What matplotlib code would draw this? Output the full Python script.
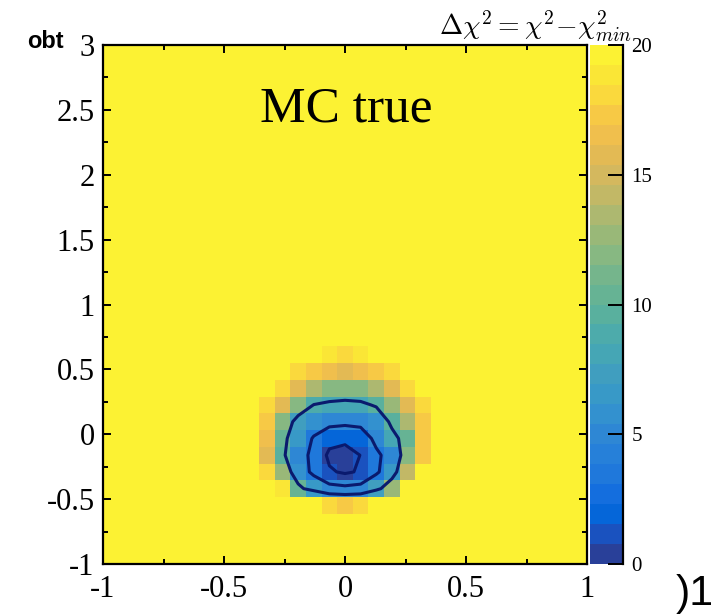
import numpy as np
import matplotlib
matplotlib.use("Agg")
import matplotlib.pyplot as plt
from matplotlib.colors import ListedColormap, BoundaryNorm
from matplotlib.ticker import AutoMinorLocator, FixedLocator

plt.rcParams['mathtext.fontset'] = 'cm'
plt.rcParams['axes.unicode_minus'] = False

# ---------------- data ----------------
x_range = (-1.0, 1.0)
y_range = (-1.0, 3.0)
n_bins = 31
z_max = 20.0
n_bands = 26
contour_levels = [1.0, 4.0, 9.0]
A = 25.0   # bins above the colour-scale maximum (drawn in the top colour)

# Delta chi^2 values, x bins 10..20 (x ~ -0.32 ... 0.32), one array per y bin
core_first_col = 10
row_y03 = [A, A, A, A, 18.0, 17.0, 17.8, A, A, A, A]
row_y04 = [A, 18.5, 10.2, 6.8, 5.0, 4.7, 5.0, 7.5, 12.5, A, A]
row_y05 = [18.0, 12.5, 6.0, 3.2, 1.35, 0.6, 1.3, 3.4, 6.5, 14.5, A]
row_y06 = [16.0, 9.8, 5.0, 3.4, 0.4, 0.0, 1.05, 3.4, 5.3, 11.7, 17.2]
row_y07 = [16.5, 10.2, 6.2, 3.7, 2.0, 1.6, 2.2, 4.8, 7.8, 10.6, 17.0]
row_y08 = [17.2, 12.0, 7.4, 5.8, 4.9, 4.7, 4.9, 6.0, 9.8, 13.5, 17.5]
row_y09 = [17.8, 15.6, 11.8, 8.9, 8.2, 8.0, 8.2, 9.4, 12.6, 15.8, 18.0]
row_y10 = [A, 17.8, 15.6, 13.4, 12.2, 11.6, 12.0, 13.5, 15.5, 17.9, A]
row_y11 = [A, A, 18.0, 17.3, 16.6, 16.0, 16.3, 17.2, 18.0, A, A]
row_y12 = [A, A, A, A, 18.5, 18.0, 18.5, A, A, A, A]
core_rows = [(3, row_y03), (4, row_y04), (5, row_y05), (6, row_y06),
             (7, row_y07), (8, row_y08), (9, row_y09), (10, row_y10),
             (11, row_y11), (12, row_y12)]

x_ticks = [-1, -0.5, 0, 0.5, 1]
x_tick_labels = ['-1', '-0.5', '0', '0.5', '1']
y_ticks = [-1, -0.5, 0, 0.5, 1, 1.5, 2, 2.5, 3]
y_tick_labels = ['-1', '-0.5', '0', '0.5', '1', '1.5', '2', '2.5', '3']
cb_ticks = [0, 5, 10, 15, 20]
cb_tick_labels = ['0', '5', '10', '15', '20']

# palette bands (bottom -> top), muted parula-like as in the picture
band_colors = [
    (0.16, 0.25, 0.60), (0.10, 0.32, 0.75), (0.02, 0.40, 0.85), (0.08, 0.43, 0.87),
    (0.12, 0.47, 0.86), (0.15, 0.50, 0.85), (0.18, 0.53, 0.83), (0.20, 0.57, 0.81),
    (0.22, 0.60, 0.78), (0.25, 0.62, 0.75), (0.27, 0.65, 0.71), (0.30, 0.67, 0.67),
    (0.35, 0.69, 0.62), (0.40, 0.70, 0.58), (0.46, 0.71, 0.55), (0.53, 0.72, 0.51),
    (0.60, 0.72, 0.47), (0.68, 0.72, 0.44), (0.76, 0.72, 0.40), (0.83, 0.72, 0.37),
    (0.89, 0.73, 0.33), (0.94, 0.75, 0.30), (0.97, 0.79, 0.27), (0.98, 0.85, 0.24),
    (0.98, 0.90, 0.21), (0.99, 0.95, 0.20)]

# ---------------- build histogram ----------------
Z = np.full((n_bins, n_bins), A)
for j, row in core_rows:
    Z[j, core_first_col:core_first_col + len(row)] = row
xe = np.linspace(x_range[0], x_range[1], n_bins + 1)
ye = np.linspace(y_range[0], y_range[1], n_bins + 1)
xc = 0.5 * (xe[:-1] + xe[1:])
yc = 0.5 * (ye[:-1] + ye[1:])

cmap = ListedColormap(band_colors)
cmap.set_over(band_colors[-1])
norm = BoundaryNorm(np.linspace(0, z_max, n_bands + 1), n_bands)

# ---------------- figure ----------------
W, H = 727, 614
fig = plt.figure(figsize=(W / 100, H / 100), dpi=100)
L, R, T, B = 103, 587, 45, 564
ax = fig.add_axes([L / W, 1 - B / H, (R - L) / W, (B - T) / H])
cax = fig.add_axes([590 / W, 1 - B / H, 33 / W, (B - T) / H])

mesh = ax.pcolormesh(xe, ye, Z, cmap=cmap, norm=norm, shading='flat')
ax.contour(xc, yc, Z, levels=contour_levels, colors='#0a1a6e', linewidths=2.2)

ax.set_xlim(*x_range)
ax.set_ylim(*y_range)
serif = 'Liberation Serif'
ax.xaxis.set_major_locator(FixedLocator(x_ticks))
ax.set_xticklabels(x_tick_labels, family=serif, fontsize=22)
ax.yaxis.set_major_locator(FixedLocator(y_ticks))
ax.set_yticklabels(y_tick_labels, family=serif, fontsize=22)
ax.xaxis.set_minor_locator(AutoMinorLocator(2))
ax.yaxis.set_minor_locator(AutoMinorLocator(2))
ax.tick_params(which='both', direction='in', top=True, right=True, width=1.4)
ax.tick_params(which='major', length=6)
ax.tick_params(which='minor', length=3.5)
ax.tick_params(axis='x', pad=8)
ax.tick_params(axis='y', pad=6)
for s in ax.spines.values():
    s.set_linewidth(1.6)

ax.text(-0.351, 2.41, 'MC true', family=serif, fontsize=37, va='baseline')

cb = fig.colorbar(mesh, cax=cax, extend='neither')
cb.set_ticks(cb_ticks)
cb.set_ticklabels(cb_tick_labels)
cb.outline.set_visible(False)
cax.spines['right'].set_visible(True)
cax.spines['right'].set_linewidth(1.6)
cax.tick_params(direction='in', length=11, width=1.4, pad=6, labelsize=15)
for lab in cax.get_yticklabels():
    lab.set_family(serif)
cax.minorticks_off()

fig.text(632 / W, 1 - 35 / H, r'$\Delta\chi^{2} = \chi^{2}\!-\!\chi^{2}_{min}$',
         ha='right', va='baseline', fontsize=20)
fig.text(27 / W, 1 - 48 / H, 'obt', family='Liberation Sans', fontweight='bold',
         fontsize=17, va='baseline')
fig.text(676 / W, 1 - 605 / H, ')1', family='Liberation Sans', fontsize=31,
         va='baseline')

fig.savefig('out.png', dpi=100)
